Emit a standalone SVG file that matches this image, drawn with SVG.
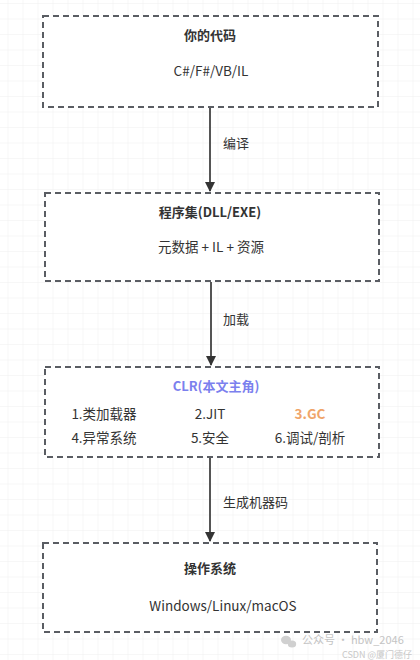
<svg xmlns="http://www.w3.org/2000/svg" width="420" height="660" viewBox="0 0 420 660">
<defs>
<pattern id="grid" x="7.5" y="3" width="15" height="15.5" patternUnits="userSpaceOnUse">
<path d="M0 0H15M0 0V15.5" fill="none" stroke="#efefef" stroke-width="1"/>
</pattern>
<marker id="arr" viewBox="0 0 10 10" refX="9" refY="5" markerWidth="10" markerHeight="10" markerUnits="userSpaceOnUse" orient="auto">
<path d="M0 0L10 5L0 10Z" fill="#333"/>
</marker>
</defs>
<style>
text{font-family:"Noto Sans CJK SC","Noto Sans",sans-serif;fill:#333;text-anchor:middle}
.box{fill:#fff;stroke:#5a5d63;stroke-width:2;stroke-dasharray:6 4}
.t{font-size:13px;font-weight:bold}
.s{font-size:13.5px}
.lbl{font-size:13px;text-anchor:start}
.wm{fill:#c4c4c4;text-anchor:start}
</style>
<rect width="420" height="660" fill="#fff"/>
<rect width="420" height="660" fill="url(#grid)"/>
<g id="connectors" stroke="#555" stroke-width="2" fill="none">
<line x1="210" y1="108" x2="210" y2="191" marker-end="url(#arr)"/>
<line x1="211" y1="282" x2="211" y2="365" marker-end="url(#arr)"/>
<line x1="210" y1="458" x2="210" y2="541" marker-end="url(#arr)"/>
</g>
<g id="labels">
<text class="lbl" x="223" y="148">编译</text>
<text class="lbl" x="223" y="324">加载</text>
<text class="lbl" x="223" y="507">生成机器码</text>
</g>
<g id="node-code">
<rect class="box" x="43" y="16" width="335" height="91"/>
<text class="t" x="210" y="40">你的代码</text>
<text class="s" x="211" y="76">C#/F#/VB/IL</text>
</g>
<g id="node-assembly">
<rect class="box" x="45" y="193" width="334" height="88"/>
<text class="t" x="210" y="217">程序集(DLL/EXE)</text>
<text class="s" x="211" y="252">元数据 + IL + 资源</text>
</g>
<g id="node-clr">
<rect class="box" x="45" y="367" width="334" height="90"/>
<text class="t" x="216" y="391" style="fill:#7b80ee">CLR(本文主角)</text>
<text class="s" x="104" y="419">1.类加载器</text>
<text class="s" x="210" y="419">2.JIT</text>
<text class="t" x="310" y="419" style="fill:#f0a56a;font-size:13.5px">3.GC</text>
<text class="s" x="104" y="443">4.异常系统</text>
<text class="s" x="210" y="443">5.安全</text>
<text class="s" x="310" y="443">6.调试/剖析</text>
</g>
<g id="node-os">
<rect class="box" x="43" y="543" width="334" height="89"/>
<text class="t" x="210" y="573">操作系统</text>
<text class="s" x="223" y="611">Windows/Linux/macOS</text>
</g>
<g id="watermark">
<ellipse cx="286" cy="640" rx="5" ry="4.2" fill="#d0d0d0"/>
<ellipse cx="292" cy="644" rx="4.2" ry="3.5" fill="#d0d0d0"/>
<text class="wm" x="302" y="644" style="font-size:11px">公众号 · hbw_2046</text>
<text class="wm" x="342" y="657.5" style="font-size:9px;fill:#c8c8c8">CSDN @厦门德仔</text>
</g>
</svg>
